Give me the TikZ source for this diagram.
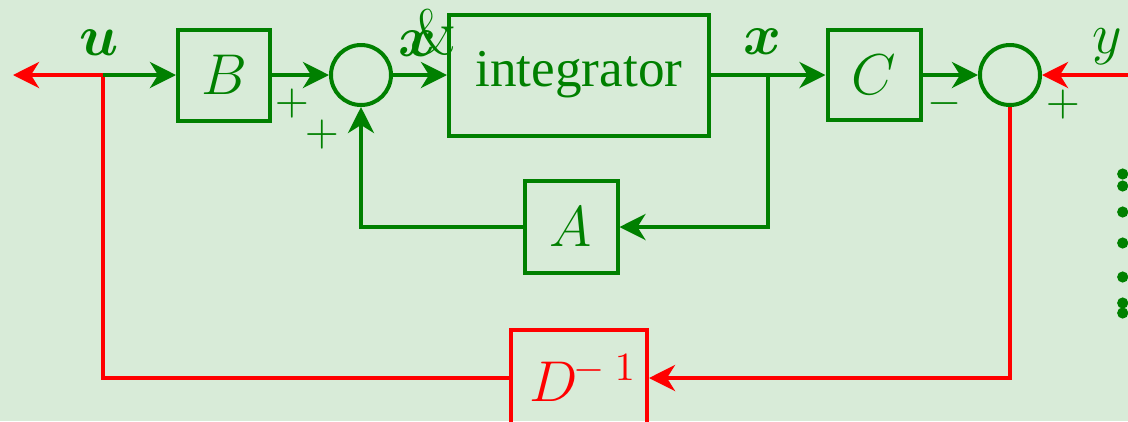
\documentclass[tikz,border=0pt]{standalone}
\usepackage{amsmath}
\usepackage{fontspec}
\newfontfamily\timesf{Liberation Serif}
\usetikzlibrary{arrows.meta}
\definecolor{bg}{RGB}{216,235,216}
\definecolor{dg}{RGB}{0,128,0}
\begin{document}
\begin{tikzpicture}[x=0.25pt,y=-0.25pt,
  blk/.style={draw=dg,line width=1pt,text=dg,inner sep=0pt,font=\fontsize{14}{17}\selectfont},
  sumc/.style={circle,draw=dg,line width=1pt,minimum size=15pt,inner sep=0pt},
  gw/.style={draw=dg,line width=1pt},
  rw/.style={draw=red,line width=1pt},
  tip/.style={-{Stealth[length=6.5pt,width=6.5pt,inset=2pt]}},
  lbl/.style={text=dg,font=\fontsize{14}{17}\selectfont,inner sep=0pt},
  sgn/.style={text=dg,font=\fontsize{11}{13}\selectfont,inner sep=0pt}]
\fill[bg] (0,0) rectangle (1128,421);
\useasboundingbox (0,0) rectangle (1128,421);
\clip (0,0) rectangle (1128,421);
% blocks
\node[blk,minimum width=23pt,minimum height=22.75pt] (B) at (224,75) {$B$};
\node[sumc] (s1) at (361,75) {};
\node[blk,minimum width=65pt,minimum height=30.25pt,font=\timesf\fontsize{13.3}{16}\selectfont] (I) at (579,75) {integrator};
\node[blk,minimum width=23.25pt,minimum height=22.5pt] (C) at (874,75) {$C$};
\node[sumc] (s2) at (1010,75) {};
\node[blk,minimum width=23.25pt,minimum height=23pt] (A) at (571,227) {$A$};
\node[blk,draw=red,text=red,minimum width=34pt,minimum height=24pt,font=\fontsize{14.5}{17}\selectfont] (D) at (579,378) {$\kern2pt D^{\kern-1pt-\kern2.5pt1}$};
% coordinates
\coordinate (L) at (13,75);
\coordinate (J) at (103,75);
\coordinate (Jd) at (103,378);
\coordinate (K) at (768,75);
\coordinate (Kd) at (768,227);
\coordinate (Ad) at (361,227);
\coordinate (R) at (1128,75);
\coordinate (S2d) at (1010,378);
% connectors
\draw[rw,tip] (J) -- (L);
\draw[rw] (D.west) -- (Jd) -- (J);
\draw[gw,tip] (J) -- (B);
\draw[gw,tip] (B) -- (s1);
\draw[gw,tip] (s1) -- (I);
\draw[gw,tip] (I) -- (C);
\draw[gw,tip] (K) -- (Kd) -- (A.east);
\draw[gw,tip] (A.west) -- (Ad) -- (s1);
\draw[gw,tip] (C) -- (s2);
\draw[rw,tip] (R) -- (s2);
\draw[rw,tip] (s2.south) -- (S2d) -- (D.east);
% labels
\node[lbl] (lu) at (99,43) {$\boldsymbol{u}$};
\node[lbl] (lxd) at (417,44) {$\boldsymbol{x}$};
\node[lbl,font=\fontsize{16}{19}\selectfont] (lamp) at (434,32) {\&};
\node[lbl] (lx) at (762,42) {$\boldsymbol{x}$};
\node[lbl] (ly) at (1107,47) {$y$};
\node[sgn] (p1) at (292,104) {$+$};
\node[sgn] (p2) at (322,135) {$+$};
\node[sgn] (m1) at (945,104) {$-$};
\node[sgn] (p3) at (1063,105) {$+$};
% dots
\foreach \yy in {174,186,212,243,277,303,313}
  \fill[dg] (1122.7,\yy) circle (1.4pt);
\end{tikzpicture}
\end{document}
